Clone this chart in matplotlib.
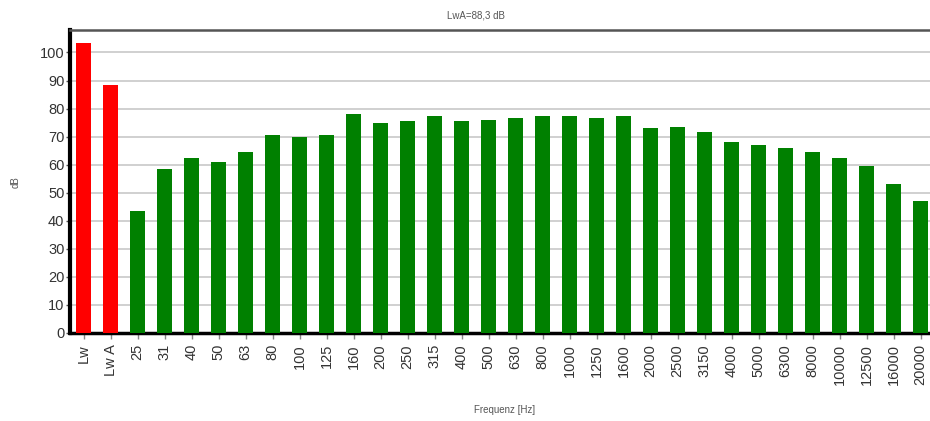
import matplotlib
matplotlib.use("Agg")
import matplotlib.pyplot as plt

categories = ["Lw", "Lw A", "25", "31", "40", "50", "63", "80", "100", "125", "160",
              "200", "250", "315", "400", "500", "630", "800", "1000", "1250", "1600",
              "2000", "2500", "3150", "4000", "5000", "6300", "8000", "10000", "12500",
              "16000", "20000"]
values = [103.2, 88.3, 43.5, 58.4, 62.4, 61.0, 64.6, 70.6, 69.8, 70.6, 78.1,
          74.7, 75.4, 77.2, 75.4, 76.0, 76.6, 77.2, 77.2, 76.5, 77.2,
          73.0, 73.6, 71.8, 68.2, 67.0, 66.1, 64.6, 62.5, 59.6, 53.0, 47.1]
colors = ["#FF0000", "#FF0000"] + ["#008000"] * 30
yticks = list(range(0, 101, 10))
title = "LwA=88,3 dB"
xlabel = "Frequenz [Hz]"
ylabel = "dB"

plt.rcParams["font.family"] = ["Liberation Sans", "DejaVu Sans"]

W, H = 930, 421
fig = plt.figure(figsize=(W / 100, H / 100), dpi=100)
ax = fig.add_axes([70 / W, (H - 333) / H, 864 / W, 303 / H])

x = list(range(len(categories)))
ax.bar(x, values, width=0.56, color=colors, zorder=3)

ax.set_xlim(-0.5, len(categories) - 0.5)
ax.set_ylim(0, 108)
ax.set_yticks(yticks)
ax.set_xticks(x)
ax.set_xticklabels(categories, rotation=90, fontsize=10.5, color="#333333")
ax.tick_params(axis="y", labelsize=10.5, labelcolor="#333333", length=3, width=1, color="#555555", pad=1)
ax.tick_params(axis="x", length=4, width=1, color="#888888", pad=4)

ax.grid(axis="y", color="#C8C8C8", linewidth=1.2, zorder=0)
ax.set_axisbelow(True)

ax.spines["left"].set_linewidth(3)
ax.spines["left"].set_color("black")
ax.spines["bottom"].set_linewidth(2.5)
ax.spines["bottom"].set_color("black")
ax.spines["top"].set_linewidth(1.8)
ax.spines["top"].set_color("#555555")
ax.spines["right"].set_visible(False)

fig.text(476 / W, 1 - 15 / H, title, ha="center", va="center", fontsize=7, color="#555555")
fig.text(505 / W, 1 - 410 / H, xlabel, ha="center", va="center", fontsize=7, color="#555555")
fig.text(16 / W, 1 - 182 / H, ylabel, ha="center", va="center", fontsize=7, color="#555555", rotation=90)

fig.savefig("out.png", dpi=100)
